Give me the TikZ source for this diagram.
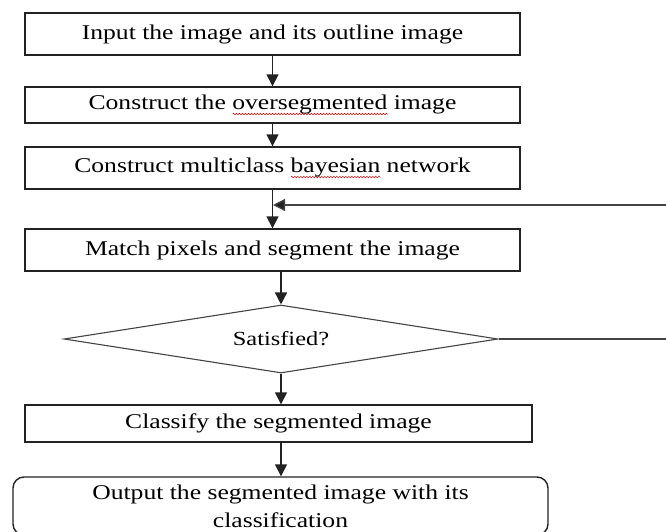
\documentclass[tikz,border=0pt]{standalone}
\usepackage{fontspec}
\setmainfont{Liberation Serif}[FakeStretch=1.22]
\usetikzlibrary{shapes.geometric,arrows.meta,calc,decorations.pathmorphing}
\newlength\wavelen
\newcommand\redwavy[1]{\settowidth\wavelen{#1}\rlap{\tikz[baseline=0pt,x=1pt,y=1pt]\draw[red!85!black,line width=0.5pt,decorate,decoration={snake,amplitude=0.8pt,segment length=3pt}] (0,-4.5) -- (\wavelen,-4.5);}#1}
\definecolor{lin}{HTML}{222222}
\definecolor{thin}{HTML}{444444}
\begin{document}
\begin{tikzpicture}[x=1pt,y=-1pt,
  box/.style={draw=lin, line width=1.4pt, inner sep=0pt, font=\fontsize{21}{25}\selectfont},
  tip/.style={-{Triangle[width=12pt,length=12pt]}},
  arr/.style={draw=lin, line width=1.5pt, tip},
  thinline/.style={draw=thin, line width=1.2pt}]
\useasboundingbox (0,0) rectangle (666,531);
\fill[white] (0,0) rectangle (666,531);

\node[box, minimum width=495pt, minimum height=42pt] (b1) at (272.5,34) {Input the image and its outline image};
\node[box, minimum width=495pt, minimum height=36pt] (b2) at (272.5,105) {Construct the \redwavy{oversegmented} image};
\node[box, minimum width=495pt, minimum height=42pt] (b3) at (272.5,168) {Construct multiclass \redwavy{bayesian} network};
\node[box, minimum width=495pt, minimum height=42pt] (b4) at (272.5,250) {Match pixels and segment the image};
\node[draw=thin, line width=1.1pt, diamond, aspect=6.4, minimum width=434pt, minimum height=68pt, inner sep=0pt,
      font=\fontsize{20}{24}\selectfont] (d) at (281,339) {Satisfied?};
\node[box, minimum width=507pt, minimum height=37pt] (c) at (278.5,423.5) {Classify the segmented image};
\node[box, rounded corners=11pt, minimum width=535pt, minimum height=58pt, align=center,
      font=\fontsize{21}{28}\selectfont] (o) at (280.5,506) {Output the segmented image with its\\classification};

\coordinate (loopR) at (667,205);
\coordinate (loopL) at (273,205);

\draw[arr] (b1.south) -- (b2.north);
\draw[arr] (b2.south) -- (b3.north);
\draw[arr] (b3.south) -- (b4.north);
\draw[thinline, -{Triangle[width=12pt,length=12pt,fill=lin]}] (loopR) -- (loopL);
\draw[arr] (b4.south -| d.north) -- (d.north);
\draw[thinline] (d.east) -- (d.east -| loopR);
\draw[arr] (d.south) -- (d.south |- c.north);
\draw[arr] (d.south |- c.south) -- (d.south |- o.north);
\end{tikzpicture}
\end{document}
